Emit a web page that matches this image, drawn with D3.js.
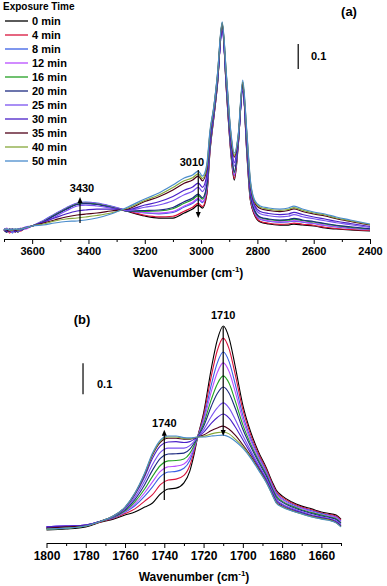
<!DOCTYPE html>
<html>
<head>
<meta charset="utf-8">
<script src="https://cdn.jsdelivr.net/npm/d3@7/dist/d3.min.js"></script>
<style>
    body { margin: 0; background: #fff; }
    #chart svg text { font-family: "Liberation Sans", Arial, sans-serif; font-weight: bold; fill: #000; }
</style>
</head>
<body>
<div id="chart"></div>
<script>
//Datos
const timesMin = [0, 4, 8, 12, 16, 20, 25, 30, 35, 40, 50];
const seriesColors = ['#000000', '#d9133c', '#3a5fe5', '#b94dff', '#22a022', '#1c2a80', '#7a52f0', '#4a20c8', '#500018', '#86a83a', '#4a8ccc'];

//Panel (a): 3700 - 2400 cm-1
const wavenumbersA = [3700, 3690, 3680, 3670, 3660, 3650, 3640, 3625, 3600, 3560, 3520, 3480, 3440, 3410, 3370, 3320, 3260,
    3200, 3150, 3100, 3060, 3030, 3010, 2995, 2980, 2968, 2955, 2942, 2925, 2910, 2895, 2882, 2868, 2852, 2838, 2825, 2810,
    2790, 2760, 2720, 2690, 2670, 2640, 2600, 2560, 2520, 2470, 2400];
const absorbanceA = [
    [.036,.028,.040,.032,.036,.028,.040,.044,.052, .070,.096,.120,.140,.144,.140,.128,.110,
     .092,.084,.084,.104,.120,.136,.124,.176,.356,.484,.616,.864,.596,.356,.236,.376,.628,.356,.156,.096,.068,.060,.056,.056,.060,.056,.052,.044,.040,.036,.032],
    [.032,.040,.024,.036,.028,.040,.032,.044,.052, .072,.098,.122,.142,.146,.142,.130,.112,
     .095,.089,.091,.111,.127,.143,.130,.182,.360,.486,.618,.856,.599,.360,.242,.378,.616,.360,.160,.099,.071,.063,.059,.060,.064,.059,.055,.047,.042,.038,.034],
    [.040,.032,.036,.024,.040,.032,.036,.044,.052, .074,.100,.124,.144,.148,.144,.132,.114,
     .104,.101,.106,.128,.143,.159,.146,.196,.370,.492,.623,.852,.606,.370,.254,.383,.612,.370,.170,.106,.079,.071,.067,.068,.072,.067,.062,.054,.048,.043,.037],
    [.036,.044,.028,.040,.032,.036,.044,.040,.052, .072,.098,.122,.142,.146,.142,.130,.112,
     .106,.104,.110,.132,.147,.163,.150,.200,.372,.493,.624,.844,.608,.372,.258,.384,.604,.372,.172,.108,.081,.073,.069,.070,.074,.069,.063,.055,.050,.044,.038],
    [.032,.036,.040,.032,.036,.040,.036,.044,.052, .070,.096,.120,.140,.144,.140,.128,.112,
     .111,.112,.121,.143,.158,.174,.160,.210,.378,.496,.627,.856,.613,.378,.266,.387,.616,.378,.178,.113,.086,.078,.074,.075,.080,.074,.068,.060,.054,.047,.040],
    [.040,.028,.036,.040,.028,.036,.040,.044,.052, .068,.094,.118,.138,.142,.138,.126,.112,
     .114,.116,.126,.149,.164,.180,.165,.214,.382,.498,.629,.852,.615,.382,.270,.389,.612,.382,.182,.115,.088,.080,.076,.078,.083,.076,.070,.062,.055,.049,.041],
    [.032,.040,.032,.028,.040,.032,.036,.048,.052, .066,.088,.112,.132,.136,.132,.124,.114,
     .127,.136,.153,.177,.191,.207,.190,.238,.398,.507,.637,.836,.627,.398,.292,.397,.596,.398,.198,.127,.101,.093,.089,.091,.098,.089,.081,.073,.065,.057,.046],
    [.036,.032,.040,.036,.032,.040,.036,.044,.052, .068,.084,.100,.112,.116,.120,.120,.118,
     .136,.149,.170,.195,.208,.224,.207,.254,.408,.513,.642,.832,.635,.408,.306,.402,.592,.408,.208,.135,.110,.102,.098,.100,.107,.098,.088,.080,.071,.062,.050],
    [.040,.036,.032,.040,.036,.036,.040,.044,.052, .064,.076,.088,.096,.100,.104,.112,.120,
     .150,.169,.196,.223,.236,.252,.233,.278,.424,.522,.650,.860,.647,.424,.328,.410,.620,.424,.224,.147,.122,.114,.110,.114,.121,.110,.100,.092,.081,.070,.056],
    [.036,.040,.036,.036,.040,.036,.040,.044,.052, .060,.072,.080,.084,.088,.094,.104,.124,
     .154,.176,.206,.233,.245,.261,.242,.286,.430,.524,.653,.864,.651,.430,.335,.413,.628,.430,.230,.151,.127,.119,.115,.118,.126,.115,.104,.096,.084,.073,.058],
    [.040,.040,.036,.040,.040,.040,.040,.044,.052, .056,.064,.070,.072,.076,.084,.100,.128,
     .160,.184,.216,.244,.256,.272,.252,.296,.436,.528,.656,.868,.656,.436,.344,.416,.636,.436,.236,.156,.132,.124,.120,.124,.132,.120,.108,.100,.088,.076,.060]
];
const majorTicksA = [3600, 3400, 3200, 3000, 2800, 2600, 2400];
const minorTicksA = [3700, 3500, 3300, 3100, 2900, 2700, 2500];

//Panel (b): 1800 - 1650 cm-1
const wavenumbersB = [1800, 1790, 1780, 1772, 1766, 1760, 1755, 1750, 1746, 1742, 1738, 1734, 1730, 1727, 1725, 1723,
    1720, 1716, 1713, 1710, 1707, 1704, 1700, 1696, 1692, 1688, 1685, 1683, 1680, 1675, 1670, 1665, 1660, 1655, 1652.5, 1650];
const absorbanceB = [
    [.042,.045,.052,.068,.077,.090,.100,.116,.129,.158,.174,.177,.194,.232,.281,.342,.419,.565,.655,.700,.661,.574,.445,.358,.294,.242,.197,.171,.152,.132,.119,.110,.100,.094,.090,.077],
    [.048,.052,.055,.069,.079,.095,.110,.135,.156,.188,.203,.206,.218,.250,.291,.342,.411,.540,.621,.661,.626,.547,.430,.349,.287,.237,.192,.166,.148,.129,.116,.107,.097,.091,.087,.075],
    [.052,.055,.058,.071,.081,.099,.120,.151,.181,.214,.229,.231,.241,.266,.300,.342,.401,.512,.581,.616,.585,.516,.412,.338,.280,.230,.187,.161,.143,.125,.113,.104,.095,.088,.084,.071],
    [.052,.055,.058,.071,.082,.101,.126,.162,.197,.231,.246,.248,.255,.277,.306,.342,.393,.490,.550,.581,.553,.491,.398,.330,.274,.225,.183,.157,.140,.122,.111,.101,.092,.086,.082,.069],
    [.045,.048,.055,.071,.083,.104,.133,.174,.215,.250,.265,.266,.271,.289,.312,.342,.384,.464,.513,.539,.515,.461,.381,.319,.267,.220,.177,.152,.135,.119,.107,.098,.090,.083,.078,.065],
    [.048,.052,.058,.071,.084,.107,.140,.188,.235,.273,.287,.288,.290,.303,.320,.342,.376,.442,.482,.503,.483,.437,.367,.311,.261,.215,.173,.147,.132,.116,.105,.095,.087,.081,.076,.063],
    [.052,.055,.058,.071,.085,.110,.147,.201,.253,.292,.306,.306,.306,.314,.326,.342,.365,.409,.436,.452,.435,.400,.347,.298,.252,.208,.167,.141,.126,.112,.101,.091,.084,.077,.072,.059],
    [.052,.055,.058,.071,.086,.113,.155,.214,.273,.313,.326,.327,.324,.327,.334,.342,.357,.387,.405,.416,.403,.376,.333,.290,.246,.203,.163,.137,.123,.109,.098,.089,.082,.075,.069,.056],
    [.048,.052,.055,.071,.087,.115,.159,.221,.284,.325,.338,.338,.335,.335,.338,.342,.348,.363,.371,.377,.367,.349,.317,.281,.240,.197,.158,.132,.119,.105,.095,.086,.079,.073,.066,.054],
    [.045,.048,.055,.071,.087,.115,.160,.224,.287,.329,.342,.342,.337,.336,.339,.342,.344,.352,.356,.358,.352,.336,.311,.277,.237,.195,.156,.130,.117,.104,.094,.085,.078,.072,.065,.052],
    [.045,.048,.055,.071,.087,.116,.161,.226,.290,.332,.345,.345,.340,.339,.340,.342,.342,.345,.347,.348,.342,.329,.306,.274,.235,.194,.155,.129,.116,.103,.094,.084,.077,.071,.065,.052]
];
const majorTicksB = [1800, 1780, 1760, 1740, 1720, 1700, 1680, 1660];
const minorTicksB = [1790, 1770, 1750, 1730, 1710, 1690, 1670, 1650];

const width = 387, height = 586;

let svg = d3.select('#chart')
    .append('svg')
    .attr('width', width)
    .attr('height', height);

//Escalas
let xA = d3.scaleLinear().domain([3700, 2400]).range([4, 370]);
let yA = d3.scaleLinear().domain([0, 1]).range([239, -11]);
let xB = d3.scaleLinear().domain([1800, 1650]).range([46.5, 341]);
let yB = d3.scaleLinear().domain([0, 1]).range([543, 233]);

function drawAxis(x, baseY, major, minor, fontSize) {
    let gMinor = svg.append('g')
        .attr('transform', 'translate(0,' + baseY + ')')
        .call(d3.axisBottom(x).tickValues(minor).tickSize(3).tickSizeOuter(0).tickFormat(''));
    gMinor.select('.domain').remove();

    let g = svg.append('g')
        .attr('transform', 'translate(0,' + baseY + ')')
        .call(d3.axisBottom(x).tickValues(major).tickSize(5).tickSizeOuter(0).tickPadding(3).tickFormat(d3.format('d')));
    g.selectAll('.tick text')
        .attr('font-size', fontSize)
        .style('font-family', '"Liberation Sans", Arial, sans-serif')
        .style('font-weight', 'bold');
    svg.selectAll('.domain, .tick line').attr('stroke', '#000').attr('stroke-width', 1);
}

function drawTitle(cx, baseline) {
    let t = svg.append('text')
        .attr('x', cx)
        .attr('y', baseline)
        .attr('text-anchor', 'middle')
        .attr('font-size', 12);
    t.append('tspan').text('Wavenumber (cm');
    t.append('tspan').attr('dy', -5).attr('font-size', 8).text('-1');
    t.append('tspan').attr('dy', 5).text(')');
}

function drawArrow(x, y1, y2) {
    //y2 es la punta de la flecha
    let dir = y2 < y1 ? 1 : -1;
    svg.append('line')
        .attr('x1', x).attr('x2', x)
        .attr('y1', y1).attr('y2', y2 + dir * 3)
        .attr('stroke', '#000')
        .attr('stroke-width', 1.2);
    svg.append('path')
        .attr('d', 'M' + x + ',' + y2 + 'L' + (x - 2.5) + ',' + (y2 + dir * 6) + 'L' + (x + 2.5) + ',' + (y2 + dir * 6) + 'Z')
        .attr('fill', '#000');
}

/////
// Panel (a)
/////
let lineA = d3.line()
    .x(function(d, i) { return xA(wavenumbersA[i]); })
    .y(function(d) { return yA(d); })
    .curve(d3.curveMonotoneX);

svg.selectAll('.line-a')
    .data(absorbanceA)
    .enter()
    .append('path')
    .attr('class', 'line-a')
    .attr('d', function(d) { return lineA(d); })
    .attr('fill', 'none')
    .attr('stroke', function(d, i) { return seriesColors[i]; })
    .attr('stroke-width', 1.25);

drawAxis(xA, 239, majorTicksA, minorTicksA, 11);
drawTitle(188, 277);

//Leyenda
svg.append('text').attr('x', 3).attr('y', 9.5).attr('font-size', 10).text('Exposure Time');
let legend = svg.selectAll('.legend')
    .data(timesMin)
    .enter()
    .append('g')
    .attr('class', 'legend')
    .attr('transform', function(d, i) { return 'translate(0,' + (21 + i * 14) + ')'; });
legend.append('line')
    .attr('x1', 5).attr('x2', 28)
    .attr('y1', 0).attr('y2', 0)
    .attr('stroke', function(d, i) { return seriesColors[i]; })
    .attr('stroke-width', 1.3);
legend.append('text')
    .attr('x', 32)
    .attr('y', 4)
    .attr('font-size', 11)
    .text(function(d) { return d + ' min'; });

svg.append('text').attr('x', 349).attr('y', 15.5).attr('text-anchor', 'middle').attr('font-size', 13).text('(a)');

//Barra de escala
svg.append('line')
    .attr('x1', xA(2655)).attr('x2', xA(2655))
    .attr('y1', yA(0.68)).attr('y2', yA(0.78))
    .attr('stroke', '#000').attr('stroke-width', 1.2);
svg.append('text').attr('x', 311).attr('y', 60).attr('font-size', 11).text('0.1');

//Flechas
drawArrow(xA(3430), yA(0.064), yA(0.168));
svg.append('text').attr('x', xA(3430) + 2).attr('y', 192).attr('text-anchor', 'middle').attr('font-size', 11).text('3430');
drawArrow(xA(3010), yA(0.276), yA(0.084));
svg.append('text').attr('x', 192).attr('y', 166).attr('text-anchor', 'middle').attr('font-size', 11).text('3010');

/////
// Panel (b)
/////
let lineB = d3.line()
    .x(function(d, i) { return xB(wavenumbersB[i]); })
    .y(function(d) { return yB(d); })
    .curve(d3.curveMonotoneX);

svg.selectAll('.line-b')
    .data(absorbanceB)
    .enter()
    .append('path')
    .attr('class', 'line-b')
    .attr('d', function(d) { return lineB(d); })
    .attr('fill', 'none')
    .attr('stroke', function(d, i) { return seriesColors[i]; })
    .attr('stroke-width', 1.1);

drawAxis(xB, 543, majorTicksB, minorTicksB, 12);
drawTitle(194, 581);

svg.append('text').attr('x', 82).attr('y', 324).attr('text-anchor', 'middle').attr('font-size', 13).text('(b)');

//Barra de escala
svg.append('line')
    .attr('x1', xB(1781.4)).attr('x2', xB(1781.4))
    .attr('y1', yB(0.48)).attr('y2', yB(0.58))
    .attr('stroke', '#000').attr('stroke-width', 1.2);
svg.append('text').attr('x', 97).attr('y', 388).attr('font-size', 11).text('0.1');

drawArrow(xB(1740), yB(0.139), yB(0.365));
svg.append('text').attr('x', xB(1740)).attr('y', 427).attr('text-anchor', 'middle').attr('font-size', 11).text('1740');
drawArrow(xB(1710), yB(0.697), yB(0.345));
svg.append('text').attr('x', xB(1710)).attr('y', 319).attr('text-anchor', 'middle').attr('font-size', 11).text('1710');
</script>
</body>
</html>
